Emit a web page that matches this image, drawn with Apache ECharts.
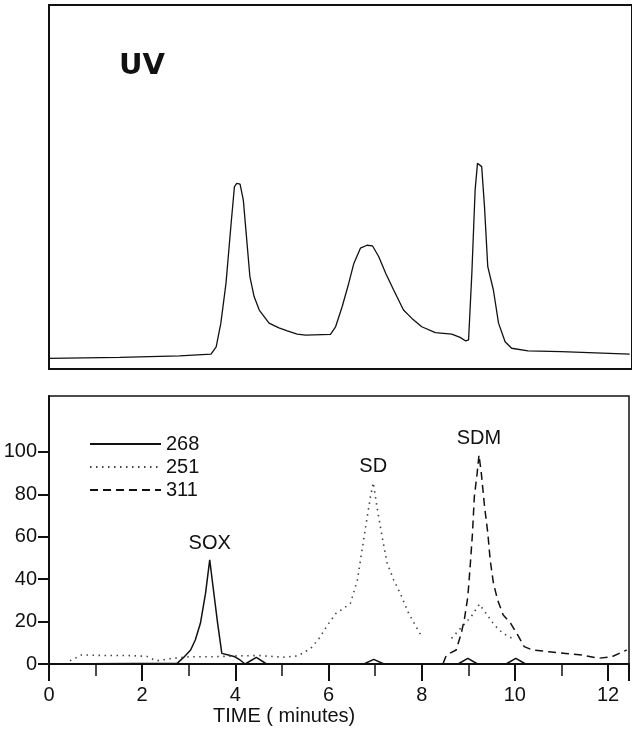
<!DOCTYPE html>
<html>
<head>
<meta charset="utf-8">
<script src="https://cdn.jsdelivr.net/npm/echarts@6/dist/echarts.min.js"></script>
<style>
html,body{margin:0;padding:0;background:#fff;}
#chart{width:632px;height:730px;}
</style>
</head>
<body>
<div id="chart"></div>
<script>
// ---- UV trace (upper panel), time in minutes, relative absorbance (0-100 of panel) ----
const uvTime = [0, 1.51, 2.79, 3.46, 3.57, 3.67, 3.78, 3.89, 3.96, 4.01, 4.08, 4.15, 4.21, 4.29, 4.38, 4.49, 4.70, 4.91, 5.09, 5.30, 5.48, 6.01, 6.12, 6.26, 6.40, 6.51, 6.65, 6.79, 6.91, 7.04, 7.19, 7.36, 7.57, 7.75, 7.96, 8.25, 8.60, 8.78, 8.90, 8.96, 9.03, 9.10, 9.15, 9.19, 9.24, 9.30, 9.37, 9.49, 9.60, 9.74, 9.88, 10.23, 10.94, 12.4];
const uvSignal = [2.9, 3.2, 3.6, 4.1, 6.1, 12.6, 23.6, 40.1, 50.1, 51.0, 50.8, 46.4, 37.4, 25.4, 19.9, 16.2, 12.6, 11.3, 10.5, 9.6, 9.3, 9.5, 11.6, 17.1, 23.5, 29.0, 33.2, 34.0, 33.8, 30.9, 26.3, 21.7, 16.2, 13.9, 11.6, 10.0, 9.6, 8.7, 7.7, 8.0, 26.3, 49.2, 56.5, 57.0, 55.6, 44.6, 28.1, 21.7, 12.6, 7.5, 5.7, 5.0, 4.8, 4.1];

// ---- Lower panel: relative response at three wavelengths ----
const t268 = [0, 2.75, 2.89, 3.04, 3.14, 3.25, 3.36, 3.45, 3.53, 3.62, 3.71, 3.85, 3.99, 4.10, 4.21, 4.45, 4.67, 6.76, 6.97, 7.19, 8.78, 8.99, 9.20, 9.81, 10.02, 10.23, 12.4];
const v268 = [0, 0.3, 3.1, 6.6, 11.3, 19.2, 33.3, 49.1, 34.9, 19.2, 5.0, 4.2, 3.4, 1.9, 0, 3.1, 0, 0, 2.2, 0, 0, 2.7, 0, 0, 2.7, 0, 0];

const t251 = [0.45, 0.7, 1.2, 1.7, 2.1, 2.3, 2.6, 3.0, 3.5, 4.0, 4.5, 5.02, 5.34, 5.62, 5.80, 5.98, 6.16, 6.30, 6.47, 6.62, 6.72, 6.82, 6.90, 6.96, 7.04, 7.15, 7.26, 7.40, 7.54, 7.72, 7.86, 7.98, 8.3, 8.64, 9.06, 9.24, 9.38, 9.56, 9.74, 9.95];
const v251 = [1.5, 4.3, 4.0, 4.0, 3.6, 1.5, 2.5, 3.4, 3.4, 3.8, 4.0, 3.2, 3.8, 7.4, 12.1, 18.4, 23.9, 25.9, 28.6, 39.6, 53.8, 67.9, 78.9, 85.5, 74.2, 60.0, 47.5, 39.6, 33.3, 23.9, 18.4, 13.7, null, 12.1, 22.3, 28.2, 23.9, 18.4, 14.5, 12.0];

const t311 = [8.46, 8.53, 8.74, 8.85, 8.92, 8.99, 9.04, 9.09, 9.13, 9.19, 9.23, 9.28, 9.35, 9.42, 9.47, 9.54, 9.63, 9.75, 9.91, 10.06, 10.20, 10.38, 10.73, 11.09, 11.44, 11.79, 12.08, 12.4];
const v311 = [0.3, 4.2, 6.6, 14.5, 21.6, 31.7, 45.9, 61.6, 78.9, 89.9, 98.6, 89.9, 74.2, 61.6, 49.1, 38.1, 30.2, 23.1, 19.2, 13.7, 8.2, 6.6, 5.8, 5.0, 4.2, 2.7, 3.4, 6.6];

const wavelengths = ['268', '251', '311'];
const compounds = ['SOX', 'SD', 'SDM'];
const yTickValues = [0, 20, 40, 60, 80, 100];
const xLabelStep = 2;

function pairs(xs, ys) { return xs.map((x, i) => [x, ys[i] === null ? '-' : ys[i]]); }

const FONT = '"Liberation Sans", Arial, sans-serif';
const XMAX = 12.45;
const chart = echarts.init(document.getElementById('chart'), null, { renderer: 'canvas' });

const peakMark = (name) => ({
  symbol: 'circle', symbolSize: 0, silent: true,
  label: { show: true, position: 'top', distance: 6, formatter: '{b}', color: '#111', fontSize: 20, fontFamily: FONT },
  data: [{ type: 'max', name: name }]
});

const frameAxis = (grid, pos, w) => ({
  gridIndex: grid, type: 'value', position: pos, min: 0, max: XMAX,
  axisLine: { show: true, onZero: false, lineStyle: { color: '#111', width: w } },
  axisTick: { show: false }, axisLabel: { show: false }, splitLine: { show: false }
});

chart.setOption({
  animation: false,
  backgroundColor: '#fff',
  title: { text: 'UV', left: 114, top: 47, textStyle: { fontSize: 29, fontWeight: 'bold', color: '#111', fontFamily: '"DejaVu Sans", ' + FONT } },
  legend: {
    left: 89, top: 434, padding: 0, orient: 'vertical', itemWidth: 71, itemHeight: 10, itemGap: 3,
    data: wavelengths,
    itemStyle: { opacity: 0, borderWidth: 0 },
    textStyle: { fontSize: 20, color: '#111', fontFamily: FONT, padding: [0, 0, 6, 0] }
  },
  graphic: [
    { type: 'text', left: 213, top: 706, style: { text: 'TIME ( minutes)', font: '20px ' + FONT, fill: '#111' } }
  ],
  grid: [
    { left: 49, top: 5, right: -3, height: 364, show: true, borderColor: '#111', borderWidth: 2, backgroundColor: 'transparent' },
    { left: 49, top: 396, right: -3, height: 268, show: true, borderColor: '#111', borderWidth: 1.5, backgroundColor: 'transparent' }
  ],
  xAxis: [
    frameAxis(0, 'bottom', 2),
    { gridIndex: 1, type: 'value', position: 'bottom', min: 0, max: XMAX, interval: xLabelStep,
      axisLine: { onZero: false, lineStyle: { color: '#111', width: 2 } },
      axisTick: { show: true, length: 17, lineStyle: { color: '#111', width: 2 } },
      minorTick: { show: true, splitNumber: 2, length: 12, lineStyle: { color: '#111', width: 1.5 } },
      axisLabel: { margin: 21, fontSize: 20, color: '#111', fontFamily: FONT, formatter: v => (Math.abs(v % xLabelStep) < 1e-9 ? String(v) : '') },
      splitLine: { show: false } }
  ],
  yAxis: [
    { gridIndex: 0, type: 'value', min: 0, max: 100, axisLine: { show: true, onZero: false, lineStyle: { color: '#111', width: 2 } }, axisTick: { show: false }, axisLabel: { show: false }, splitLine: { show: false } },
    { gridIndex: 1, type: 'value', min: 0, max: 126.4,
      axisLine: { show: true, onZero: false, lineStyle: { color: '#111', width: 2 } },
      axisTick: { show: true, length: 11, customValues: yTickValues, lineStyle: { color: '#111', width: 2 } },
      axisLabel: { show: true, margin: 12, customValues: yTickValues, fontSize: 20, color: '#111', fontFamily: FONT },
      splitLine: { show: false } }
  ],
  series: [
    { type: 'line', xAxisIndex: 0, yAxisIndex: 0, data: pairs(uvTime, uvSignal), symbol: 'none', lineStyle: { color: '#111', width: 1.3 }, silent: true },
    { name: wavelengths[0], type: 'line', xAxisIndex: 1, yAxisIndex: 1, data: pairs(t268, v268), symbol: 'none', color: '#111', lineStyle: { color: '#111', width: 1.5 }, markPoint: peakMark(compounds[0]) },
    { name: wavelengths[1], type: 'line', xAxisIndex: 1, yAxisIndex: 1, data: pairs(t251, v251), symbol: 'none', connectNulls: false, color: '#444', lineStyle: { color: '#444', width: 1.6, type: [1.5, 4.5] }, markPoint: peakMark(compounds[1]) },
    { name: wavelengths[2], type: 'line', xAxisIndex: 1, yAxisIndex: 1, data: pairs(t311, v311), symbol: 'none', color: '#111', lineStyle: { color: '#111', width: 1.5, type: [8, 5] }, markPoint: peakMark(compounds[2]) }
  ]
});
</script>
</body>
</html>
